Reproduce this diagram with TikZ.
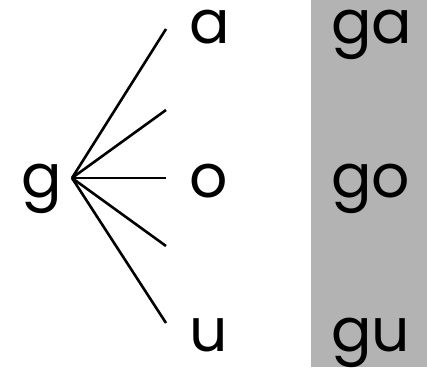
\documentclass[tikz,border=0pt]{standalone}
\usepackage{fontspec}
\setmainfont{Poppins}
\usetikzlibrary{positioning}
\definecolor{sylbox}{RGB}{179,179,179}

\begin{document}
\begin{tikzpicture}[x=1pt,y=-1pt,every node/.style={font=\fontsize{60}{60}\selectfont,inner sep=0pt,anchor=base west}]
  \useasboundingbox (0,0) rectangle (427,367);
  \fill[sylbox] (311,0) rectangle (427,367);
  \node (g) at (21,197) {g};
  \coordinate (fan) at (72,178);
  \foreach \v/\y in {a/43,o/197,u/351} {
    \node (\v) at (189,\y) {\v};
    \node (g\v) at (331,\y) {g\v};
  }
  \foreach \i/\y in {1/29,2/110,3/178,4/246,5/323} {
    \coordinate (end\i) at (166,\y);
    \draw[line width=2.6pt] (fan) -- (end\i);
  }
\end{tikzpicture}
\end{document}
